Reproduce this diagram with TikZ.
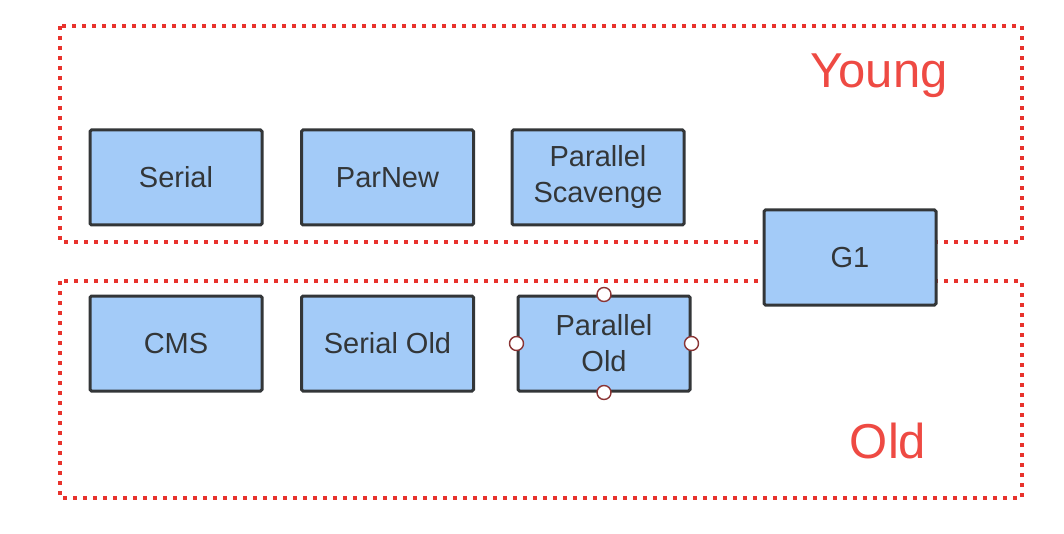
\documentclass[tikz,border=0pt]{standalone}
\usepackage{fontspec}
\setmainfont{Liberation Sans}
\definecolor{zonered}{HTML}{E8322C}
\definecolor{labelred}{HTML}{EE4A43}
\definecolor{gcfill}{HTML}{A3CBF8}
\definecolor{gcline}{HTML}{333638}
\definecolor{handle}{HTML}{8A3434}
\begin{document}
\begin{tikzpicture}[x=1pt, y=-1pt,
		gcbox/.style={draw=gcline, fill=gcfill, line width=3pt, rounded corners=1.5pt, minimum width=172pt, minimum height=95pt, align=center, text=gcline, font=\fontsize{29}{36}\selectfont},
		zone/.style={draw=zonered, line width=4pt, dash pattern=on 4pt off 6pt},
		zonelabel/.style={text=labelred, font=\fontsize{49}{52}\selectfont},
		knob/.style={circle, draw=handle, fill=white, line width=1.4pt, inner sep=0pt, minimum size=14pt}]
					
					\useasboundingbox (0,0) rectangle (1064,534);
					\draw[zone] (60,26) rectangle (1022,242);
					\draw[zone] (60,281) rectangle (1022,498);
					\node[zonelabel] (young) at (879,76) {Young};
					\node[zonelabel] (old) at (888,441) {Old};
					
					\node[gcbox] (serial) at (176,177.5) {Serial};
					\node[gcbox] (parnew) at (387.5,177.5) {ParNew};
					\node[gcbox] (scavenge) at (598,177.5) {Parallel\\Scavenge};
					\node[gcbox] (gone) at (850,257.5) {G1};
					\node[gcbox] (cms) at (176,343.5) {CMS};
					\node[gcbox] (serialold) at (387.5,343.5) {Serial Old};
					\node[gcbox] (parold) at (604,343.5) {Parallel\\Old};
					
					\node[knob] (knobn) at (parold.north) {};
					\node[knob] (knobs) at (parold.south) {};
					\node[knob] (knobw) at (parold.west) {};
					\node[knob] (knobe) at (parold.east) {};
					
					\end{tikzpicture}
\end{document}
